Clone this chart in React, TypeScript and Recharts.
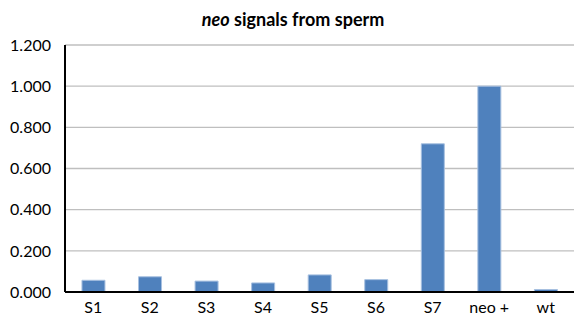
import { BarChart, Bar, XAxis, YAxis, CartesianGrid } from 'recharts'

const categories = ['S1', 'S2', 'S3', 'S4', 'S5', 'S6', 'S7', 'neo +', 'wt']
const signals = [0.057, 0.074, 0.053, 0.044, 0.083, 0.06, 0.72, 1.0, 0.012]
const yTicks = [0, 0.2, 0.4, 0.6, 0.8, 1.0, 1.2]

const data = categories.map((name, i) => ({ name, value: signals[i] }))

const FONT = 'Lato, "Open Sans", sans-serif'

export default function App() {
  return (
    <div style={{ position: 'absolute', left: 0, top: 0, width: 576, height: 318, background: '#fff', fontFamily: FONT }}>
      <div
        style={{
          position: 'absolute',
          top: 8,
          left: 0,
          width: 576,
          textAlign: 'center',
          fontSize: 18,
          fontWeight: 'bold',
          color: '#000',
        }}
      >
        <span style={{ paddingLeft: 10 }}>
          <i>neo</i> signals from sperm
        </span>
      </div>
      <BarChart
        width={576}
        height={318}
        data={data}
        margin={{ top: 45, right: 2, bottom: 0, left: 0 }}
        barCategoryGap="30%"
      >
        <CartesianGrid vertical={false} stroke="#bfbfbf" strokeWidth={1.3} />
        <XAxis
          dataKey="name"
          height={26}
          tickLine={false}
          axisLine={{ stroke: '#000', strokeWidth: 2 }}
          tick={{ fill: '#000', fontSize: 16, fontFamily: FONT }}
          tickMargin={4}
          interval={0}
        />
        <YAxis
          width={65}
          domain={[0, 1.2]}
          ticks={yTicks}
          tickFormatter={(v: number) => v.toFixed(3)}
          tickLine={false}
          axisLine={{ stroke: '#000', strokeWidth: 2 }}
          tick={{ fill: '#000', fontSize: 16, fontFamily: FONT }}
          tickMargin={8}
        />
        <Bar dataKey="value" fill="#4f81bd" stroke="#a7c0e0" strokeWidth={1} isAnimationActive={false} />
      </BarChart>
    </div>
  )
}
